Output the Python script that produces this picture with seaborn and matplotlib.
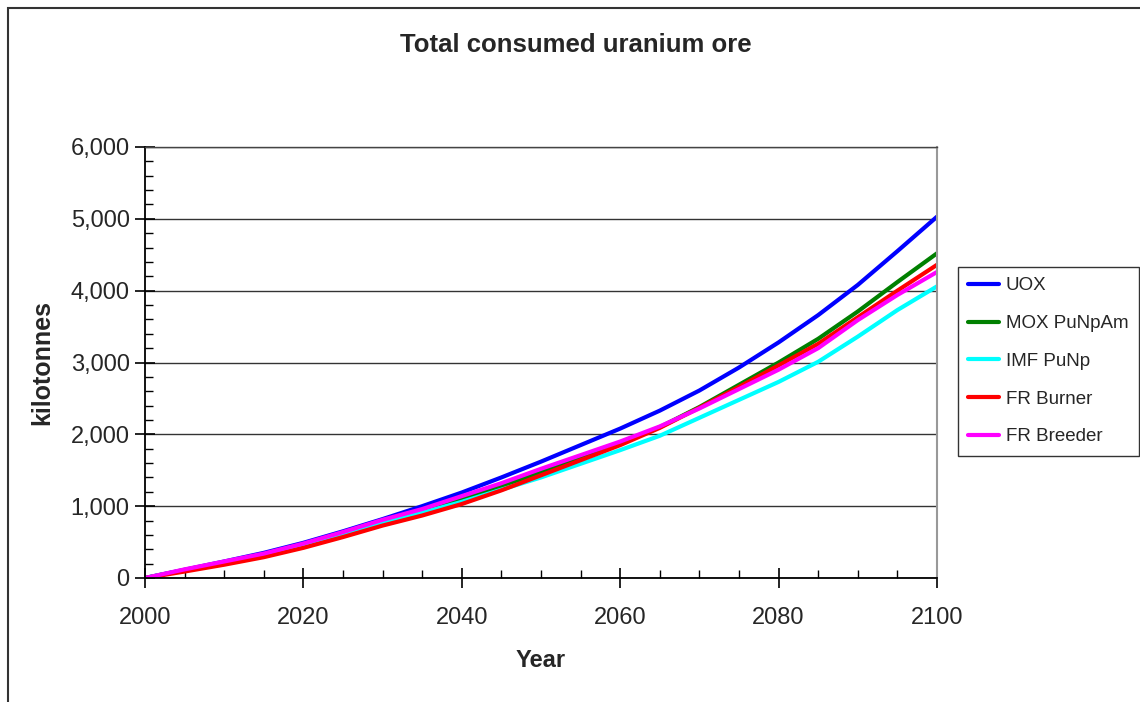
import numpy as np
import pandas as pd
import matplotlib
matplotlib.use("Agg")
import matplotlib.pyplot as plt
import seaborn as sns
from matplotlib.patches import Rectangle
from matplotlib.ticker import MultipleLocator, FuncFormatter

# dati (kilotonnes), ogni 5 anni
years = list(range(2000, 2101, 5))
uox = [0, 115, 230, 350, 490, 650, 820, 1000, 1190, 1400, 1620,
       1850, 2080, 2330, 2610, 2930, 3280, 3660, 4080, 4550, 5030]
mox = [0, 110, 220, 330, 470, 630, 790, 950, 1110, 1280, 1470,
       1670, 1870, 2100, 2380, 2690, 3000, 3330, 3710, 4120, 4520]
imf = [0, 110, 220, 330, 460, 620, 770, 910, 1060, 1230, 1400,
       1590, 1780, 1980, 2230, 2480, 2730, 3010, 3360, 3730, 4060]
fr_burner = [0, 90, 185, 290, 420, 570, 730, 870, 1030, 1220, 1430,
             1640, 1850, 2090, 2370, 2660, 2960, 3260, 3630, 4000, 4360]
fr_breeder = [0, 120, 230, 340, 480, 640, 810, 960, 1140, 1320, 1520,
              1710, 1900, 2110, 2360, 2630, 2900, 3200, 3590, 3940, 4260]

series = ['UOX', 'MOX PuNpAm', 'IMF PuNp', 'FR Burner', 'FR Breeder']
colors = ['#0000FF', '#008000', '#00FFFF', '#FF0000', '#FF00FF']

df = pd.DataFrame({'Year': years * 5,
                   'value': uox + mox + imf + fr_burner + fr_breeder,
                   'scenario': sum([[s] * len(years) for s in series], [])})

sns.set_style('white')
plt.rcParams['font.family'] = ['Liberation Sans', 'DejaVu Sans']

fig = plt.figure(figsize=(11.4, 7.02), dpi=100)
ax = fig.add_axes([145 / 1140, 1 - 578 / 702, (937 - 145) / 1140, (578 - 147) / 702])

sns.lineplot(data=df, x='Year', y='value', hue='scenario', hue_order=series,
             palette=colors, linewidth=3, ax=ax)

ax.set_xlim(2000, 2100)
ax.set_ylim(0, 6000)
ax.xaxis.set_major_locator(MultipleLocator(20))
ax.xaxis.set_minor_locator(MultipleLocator(5))
ax.yaxis.set_major_locator(MultipleLocator(1000))
ax.yaxis.set_minor_locator(MultipleLocator(200))
ax.yaxis.set_major_formatter(FuncFormatter(lambda v, p: f'{int(v):,}'))
ax.tick_params(which='major', direction='inout', length=14, width=1.2,
               color='black', labelsize=17)
ax.tick_params(which='minor', direction='in', length=6, width=1.0, color='black')
ax.tick_params(axis='x', which='major', pad=14)
ax.tick_params(axis='y', which='major', pad=4)
ax.tick_params(axis='y', which='both', left=True)
ax.tick_params(axis='x', which='both', bottom=True)

ax.grid(axis='y', which='major', color='#333333', linewidth=1.0)
ax.set_axisbelow(True)
for s in ['left', 'bottom']:
    ax.spines[s].set_color('black')
    ax.spines[s].set_linewidth(1.3)
ax.spines['right'].set_color('#999999')
ax.spines['right'].set_linewidth(1.5)
ax.spines['top'].set_color('#444444')
ax.spines['top'].set_linewidth(1.0)

ax.set_xlabel('Year', fontsize=17, fontweight='bold', labelpad=14)
ax.set_ylabel('kilotonnes', fontsize=18, fontweight='bold', labelpad=12)
fig.text(576 / 1140, 1 - 45 / 702, 'Total consumed uranium ore', fontsize=18.5,
         fontweight='bold', ha='center', va='center')

handles, labels = ax.get_legend_handles_labels()
ax.legend(handles, labels, loc='upper left',
          bbox_to_anchor=(958 / 1140, 1 - 267 / 702), bbox_transform=fig.transFigure,
          fontsize=13.5, frameon=True, fancybox=False, edgecolor='black',
          borderaxespad=0, handlelength=1.65, handletextpad=0.35,
          labelspacing=1.1, borderpad=0.55)
ax.get_legend().get_frame().set_linewidth(1.0)
for h in ax.get_legend().get_lines():
    h.set_linewidth(3)

# bordo esterno del grafico
fig.patches.append(Rectangle((7.5 / 1140, -0.1), 1.2, (702 - 7.5) / 702 + 0.1,
                             transform=fig.transFigure, fill=False,
                             edgecolor='#333333', linewidth=1.5))

fig.savefig('out.png', dpi=100)
